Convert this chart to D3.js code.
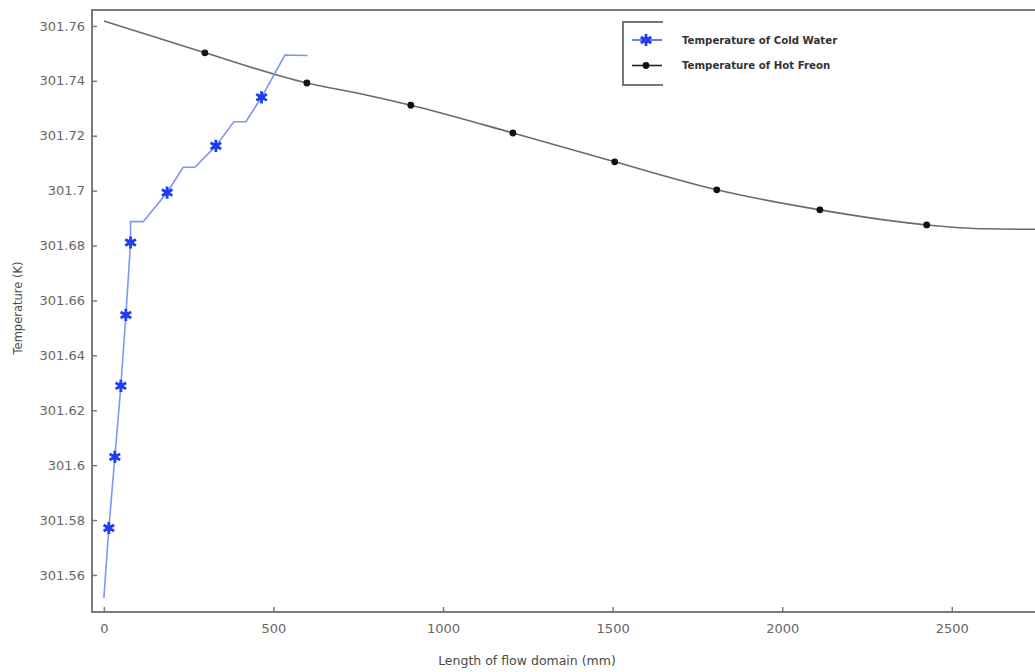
<!DOCTYPE html>
<html>
<head>
<meta charset="utf-8">
<script src="https://cdn.jsdelivr.net/npm/d3@7"></script>
<style>
  body { margin: 0; background: #fff; }
  svg { display: block; }
</style>
</head>
<body>
<svg id="chart" width="1035" height="672"></svg>
<script>
// cold water (blue) line
const coldX = [0, 14.7, 32.4, 50.1, 64.9, 78.7, 78.7, 115.9, 186.6, 233.8, 268.3, 330.2, 383.3, 418.6, 464.9, 533.6, 600.5];
const coldT = [301.5516, 301.5771, 301.6030, 301.6289, 301.6547, 301.6811, 301.6887, 301.6887, 301.6993, 301.7085, 301.7085, 301.7163, 301.7251, 301.7251, 301.7340, 301.7494, 301.7492];
const coldMarkX = [14.7, 32.4, 50.1, 64.9, 78.7, 186.6, 330.2, 464.9];
const coldMarkT = [301.5771, 301.6030, 301.6289, 301.6547, 301.6811, 301.6993, 301.7163, 301.7340];

// hot freon (black) line
const hotX = [0, 297.8, 598.5, 760, 905, 1206, 1506, 1807, 2111, 2426, 2600, 2760];
const hotT = [301.7618, 301.7502, 301.7392, 301.7352, 301.7311, 301.7210, 301.7105, 301.7003, 301.6930, 301.6875, 301.6861, 301.6859];
const hotMarkX = [297.8, 598.5, 905, 1206, 1506, 1807, 2111, 2426];
const hotMarkT = [301.7502, 301.7392, 301.7311, 301.7210, 301.7105, 301.7003, 301.6930, 301.6875];

const xTicks = [0, 500, 1000, 1500, 2000, 2500];
const yTicks = [301.56, 301.58, 301.6, 301.62, 301.64, 301.66, 301.68, 301.7, 301.72, 301.74, 301.76];
const legendLabels = ['Temperature of Cold Water', 'Temperature of Hot Freon'];

const svg = d3.select('#chart');
const mLeft = 92, mTop = 10, mBottom = 612, mRight = 1040;

const x = d3.scaleLinear().domain([-35, 2760]).range([mLeft, mRight]);
const y = d3.scaleLinear().domain([301.5465, 301.7658]).range([mBottom, mTop]);

const axisColor = '#7a7a7a';
const tickFont = 'DejaVu Sans, sans-serif';

// frame
svg.append('path')
  .attr('d', `M${mRight + 5},${mTop} H${mLeft} V${mBottom} H${mRight + 5}`)
  .attr('fill', 'none')
  .attr('stroke', axisColor)
  .attr('stroke-width', 2);

// x axis (ticks pointing inward)
const xAxis = svg.append('g')
  .attr('transform', `translate(0,${mBottom})`)
  .call(d3.axisBottom(x).tickValues(xTicks).tickSize(-5).tickPadding(12).tickFormat(d3.format('d')));
xAxis.select('.domain').remove();
xAxis.selectAll('line').attr('stroke', axisColor).attr('stroke-width', 1.5);
xAxis.selectAll('text')
  .attr('fill', '#666')
  .style('font-family', tickFont)
  .style('font-size', '13px');

// y axis
const yAxis = svg.append('g')
  .attr('transform', `translate(${mLeft},0)`)
  .call(d3.axisLeft(y).tickValues(yTicks).tickSize(-5).tickPadding(7).tickFormat((d) => String(+d.toFixed(2))));
yAxis.select('.domain').remove();
yAxis.selectAll('line').attr('stroke', axisColor).attr('stroke-width', 1.5);
yAxis.selectAll('text')
  .attr('fill', '#666')
  .style('font-family', tickFont)
  .style('font-size', '13px');

// axis titles
svg.append('text')
  .attr('x', 527)
  .attr('y', 665)
  .attr('text-anchor', 'middle')
  .attr('fill', '#4a4a4a')
  .style('font-family', tickFont)
  .style('font-size', '12.5px')
  .text('Length of flow domain (mm)');

svg.append('text')
  .attr('transform', 'translate(22,308) rotate(-90)')
  .attr('text-anchor', 'middle')
  .attr('fill', '#4a4a4a')
  .style('font-family', tickFont)
  .style('font-size', '11.5px')
  .text('Temperature (K)');

const plot = svg.append('g');
const line = d3.line().x((d) => x(d[0])).y((d) => y(d[1]));

// hot freon
plot.append('path')
  .datum(hotX.map((v, i) => [v, hotT[i]]))
  .attr('d', line.curve(d3.curveMonotoneX))
  .attr('fill', 'none')
  .attr('stroke', '#6a6a6a')
  .attr('stroke-width', 1.6);
line.curve(d3.curveLinear);

plot.selectAll('circle.hot')
  .data(hotMarkX.map((v, i) => [v, hotMarkT[i]]))
  .join('circle')
  .attr('class', 'hot')
  .attr('cx', (d) => x(d[0]))
  .attr('cy', (d) => y(d[1]))
  .attr('r', 3.4)
  .attr('fill', '#111');

// cold water
plot.append('path')
  .datum(coldX.map((v, i) => [v, coldT[i]]))
  .attr('d', line)
  .attr('fill', 'none')
  .attr('stroke', '#7f95f2')
  .attr('stroke-width', 1.6);

const star = d3.symbol().type(d3.symbolAsterisk).size(105);
const starFill = d3.symbol().type(d3.symbolCircle).size(34);

function drawStar(sel) {
  sel.append('path')
    .attr('d', star)
    .attr('fill', 'none')
    .attr('stroke', '#1e3ff0')
    .attr('stroke-width', 2.8);
  sel.append('path')
    .attr('d', starFill)
    .attr('fill', '#1e3ff0');
}

plot.selectAll('g.cold')
  .data(coldMarkX.map((v, i) => [v, coldMarkT[i]]))
  .join('g')
  .attr('class', 'cold')
  .attr('transform', (d) => `translate(${x(d[0])},${y(d[1])})`)
  .call(drawStar);

// legend
const lg = svg.append('g');
lg.append('path')
  .attr('d', 'M663,22 H623 V85 H663')
  .attr('fill', 'none')
  .attr('stroke', '#777')
  .attr('stroke-width', 2);

const legendRows = lg.selectAll('g.row')
  .data(legendLabels)
  .join('g')
  .attr('class', 'row')
  .attr('transform', (d, i) => `translate(0,${40 + i * 25.5})`);

legendRows.append('line')
  .attr('x1', 632).attr('x2', 662)
  .attr('stroke', (d, i) => (i === 0 ? '#3c5cf2' : '#222'))
  .attr('stroke-width', 1.6);

legendRows.filter((d, i) => i === 0).append('g')
  .attr('transform', 'translate(646,0)')
  .call(drawStar);
legendRows.filter((d, i) => i === 1).append('circle')
  .attr('cx', 646)
  .attr('r', 3.4)
  .attr('fill', '#111');

legendRows.append('text')
  .attr('x', 682)
  .attr('dy', '0.35em')
  .attr('fill', '#333')
  .style('font-family', tickFont)
  .style('font-size', '10.2px')
  .style('font-weight', 'bold')
  .text((d) => d);
</script>
</body>
</html>
